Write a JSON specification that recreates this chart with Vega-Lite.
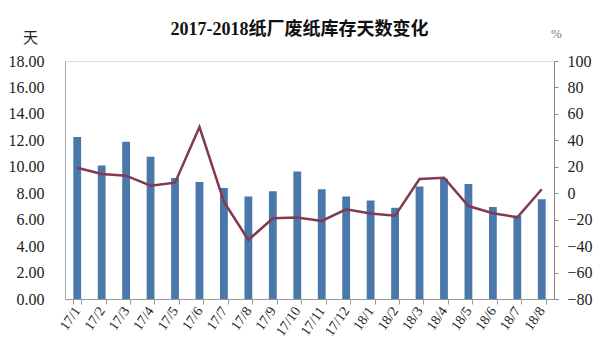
{
  "$schema": "https://vega.github.io/schema/vega-lite/v6.json",
  "width": 489,
  "height": 238,
  "autosize": {"type": "none"},
  "padding": {"left": 65, "top": 61, "right": 46, "bottom": 61},
  "background": "white",
  "title": {
    "text": "2017-2018纸厂废纸库存天数变化",
    "font": "Liberation Serif, Noto Sans CJK SC",
    "fontSize": 18,
    "fontWeight": "bold",
    "color": "#111",
    "anchor": "middle",
    "frame": "group",
    "dx": -10,
    "dy": 24,
    "offset": 12
  },
  "data": {
    "values": [
      {"month": "17/1", "days": 12.25, "pct": 19.3},
      {"month": "17/2", "days": 10.1, "pct": 14.5},
      {"month": "17/3", "days": 11.9, "pct": 13.3},
      {"month": "17/4", "days": 10.75, "pct": 5.7},
      {"month": "17/5", "days": 9.15, "pct": 8.0},
      {"month": "17/6", "days": 8.85, "pct": 50.0},
      {"month": "17/7", "days": 8.4, "pct": -6.4},
      {"month": "17/8", "days": 7.75, "pct": -35.4},
      {"month": "17/9", "days": 8.15, "pct": -19.0},
      {"month": "17/10", "days": 9.65, "pct": -18.3},
      {"month": "17/11", "days": 8.3, "pct": -21.0},
      {"month": "17/12", "days": 7.75, "pct": -12.2},
      {"month": "18/1", "days": 7.45, "pct": -15.3},
      {"month": "18/2", "days": 6.9, "pct": -17.0},
      {"month": "18/3", "days": 8.5, "pct": 10.7},
      {"month": "18/4", "days": 9.1, "pct": 11.7},
      {"month": "18/5", "days": 8.7, "pct": -9.7},
      {"month": "18/6", "days": 6.95, "pct": -15.2},
      {"month": "18/7", "days": 6.3, "pct": -18.2},
      {"month": "18/8", "days": 7.55, "pct": 3.0}
    ]
  },
  "encoding": {
    "x": {
      "field": "month",
      "type": "ordinal",
      "sort": null,
      "scale": {"paddingInner": 0.68, "paddingOuter": 0.34},
      "axis": {
        "title": null,
        "labelAngle": -55,
        "labelAlign": "right",
        "labelBaseline": "middle",
        "labelFont": "Liberation Serif",
        "labelFontSize": 14,
        "labelColor": "#222",
        "labelPadding": 4,
        "tickBand": "extent",
        "tickSize": 5,
        "tickColor": "#999",
        "domainColor": "#999",
        "grid": false
      }
    }
  },
  "layer": [
    {
      "mark": {"type": "bar", "color": "#4a78ab"},
      "encoding": {
        "y": {
          "field": "days",
          "type": "quantitative",
          "scale": {"domain": [0, 18], "nice": false},
          "axis": {
            "title": "天",
            "titleAngle": 0,
            "titleX": -35,
            "titleY": -24,
            "titleAlign": "center",
            "titleBaseline": "middle",
            "titleFont": "Noto Sans CJK SC",
            "titleFontSize": 15,
            "titleFontWeight": "normal",
            "titleColor": "#222",
            "values": [0, 2, 4, 6, 8, 10, 12, 14, 16, 18],
            "format": ".2f",
            "labelFont": "Liberation Serif",
            "labelFontSize": 16,
            "labelColor": "#222",
            "labelPadding": 21,
            "ticks": false,
            "grid": false,
            "domainColor": "#aaa"
          }
        }
      }
    },
    {
      "mark": {"type": "line", "color": "#823a50", "strokeWidth": 2.5},
      "encoding": {
        "y": {
          "field": "pct",
          "type": "quantitative",
          "scale": {"domain": [-80, 100], "nice": false},
          "axis": {
            "orient": "right",
            "title": "%",
            "titleAngle": 0,
            "titleX": 2,
            "titleY": -28,
            "titleAlign": "center",
            "titleBaseline": "middle",
            "titleFont": "Liberation Serif",
            "titleFontSize": 13,
            "titleFontWeight": "normal",
            "titleColor": "#777",
            "values": [-80, -60, -40, -20, 0, 20, 40, 60, 80, 100],
            "labelFont": "Liberation Serif",
            "labelFontSize": 16,
            "labelColor": "#222",
            "labelPadding": 9,
            "tickSize": 4,
            "tickColor": "#888",
            "grid": false,
            "domainColor": "#888"
          }
        }
      }
    }
  ],
  "resolve": {"scale": {"y": "independent"}}
}
